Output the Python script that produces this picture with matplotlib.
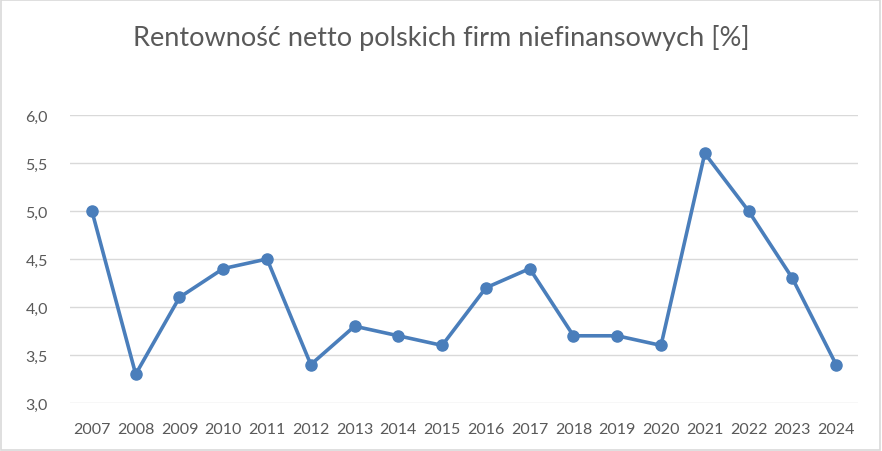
import matplotlib.pyplot as plt
from matplotlib.patches import Rectangle

years = [str(y) for y in range(2007, 2025)]
values = [5.0, 3.3, 4.1, 4.4, 4.5, 3.4, 3.8, 3.7, 3.6, 4.2, 4.4, 3.7, 3.7, 3.6, 5.6, 5.0, 4.3, 3.4]
y_ticks = [3.0, 3.5, 4.0, 4.5, 5.0, 5.5, 6.0]

plt.rcParams['font.family'] = ['Lato', 'DejaVu Sans']

fig = plt.figure(figsize=(8.82, 4.52), dpi=100)
ax = fig.add_axes([0.0794, 0.1062, 0.8934, 0.6372])

x = range(len(years))
ax.plot(x, values, color='#4a7ebb', linewidth=2.6, marker='o', markersize=8,
        solid_capstyle='round', zorder=3)

ax.set_xlim(-0.5, len(years) - 0.5)
ax.set_ylim(3.0, 6.0)
ax.set_yticks(y_ticks)
ax.set_yticklabels([f'{v:.1f}'.replace('.', ',') for v in y_ticks])
ax.set_xticks(list(x))
ax.set_xticklabels(years)

ax.grid(axis='y', color='#d9d9d9', linewidth=1)
ax.set_axisbelow(True)
for s in ax.spines.values():
    s.set_visible(False)
ax.tick_params(length=0, labelsize=11.5, colors='#595959')
ax.tick_params(axis='x', pad=14)
ax.tick_params(axis='y', pad=16)

fig.text(0.5, 0.915, 'Rentowność netto polskich firm niefinansowych [%]',
         ha='center', va='center', fontsize=19.5, color='#595959')

fig.patches.append(Rectangle((0.001, 0.002), 0.997, 0.996, transform=fig.transFigure,
                             fill=False, edgecolor='#d9d9d9', linewidth=1.2))

fig.savefig('out.png', dpi=100)
